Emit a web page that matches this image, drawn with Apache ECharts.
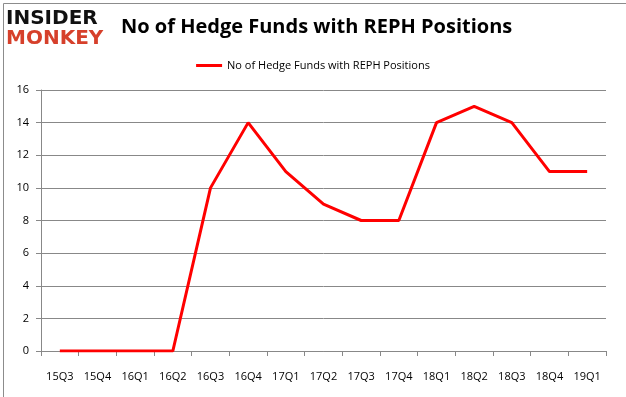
<!DOCTYPE html>
<html>
<head>
<meta charset="utf-8">
<script src="https://cdn.jsdelivr.net/npm/echarts@6/dist/echarts.min.js"></script>
<style>
  html, body { margin: 0; padding: 0; background: #fff; }
  #chart { width: 626px; height: 397px; }
</style>
</head>
<body>
<div id="chart"></div>
<script>
// quarters on the x axis
var quarters = ['15Q3', '15Q4', '16Q1', '16Q2', '16Q3', '16Q4', '17Q1', '17Q2',
  '17Q3', '17Q4', '18Q1', '18Q2', '18Q3', '18Q4', '19Q1'];
// number of hedge funds holding REPH
var fundCounts = [0, 0, 0, 0, 10, 14, 11, 9, 8, 8, 14, 15, 14, 11, 11];
var seriesName = 'No of Hedge Funds with REPH Positions';

var chart = echarts.init(document.getElementById('chart'));

var option = {
  backgroundColor: '#fff',
  animation: false,
  graphic: [
    {
      type: 'rect', left: 1, top: 1,
      shape: { width: 623, height: 394 },
      style: { fill: 'none', stroke: '#8c8c8c', lineWidth: 1 }
    },
    {
      type: 'text', left: 6, top: 9,
      style: { text: 'INSIDER', font: '900 20px "DejaVu Sans"', fill: '#111' }
    },
    {
      type: 'text', left: 6, top: 29,
      style: { text: 'MONKEY', font: '900 20px "DejaVu Sans"', fill: '#d6402b' }
    }
  ],
  title: {
    text: 'No of Hedge Funds with REPH Positions',
    left: 116,
    top: 12,
    textStyle: { fontFamily: 'Open Sans', fontWeight: 'bold', fontSize: 20, color: '#000' }
  },
  legend: {
    top: 55,
    left: 'center',
    icon: 'rect',
    itemWidth: 26,
    itemHeight: 3,
    textStyle: { fontFamily: 'Open Sans', fontSize: 11, color: '#000' },
    data: [seriesName]
  },
  grid: { left: 41, right: 20, top: 90, bottom: 46 },
  xAxis: {
    type: 'category',
    data: quarters,
    boundaryGap: true,
    axisLine: { lineStyle: { color: '#888' } },
    axisTick: { show: true, alignWithLabel: false, lineStyle: { color: '#888' } },
    axisLabel: { color: '#000', fontFamily: 'Open Sans', fontSize: 11, margin: 20 }
  },
  yAxis: {
    type: 'value',
    min: 0,
    max: 16,
    interval: 2,
    axisLine: { show: true, lineStyle: { color: '#888' } },
    axisTick: { show: true, lineStyle: { color: '#888' } },
    axisLabel: { color: '#000', fontFamily: 'Open Sans', fontSize: 11, margin: 12 },
    splitLine: { lineStyle: { color: '#888' } }
  },
  series: [{
    name: seriesName,
    type: 'line',
    data: fundCounts,
    symbol: 'none',
    lineStyle: { color: '#ff0000', width: 3 },
    itemStyle: { color: '#ff0000' }
  }]
};

chart.setOption(option);
</script>
</body>
</html>
